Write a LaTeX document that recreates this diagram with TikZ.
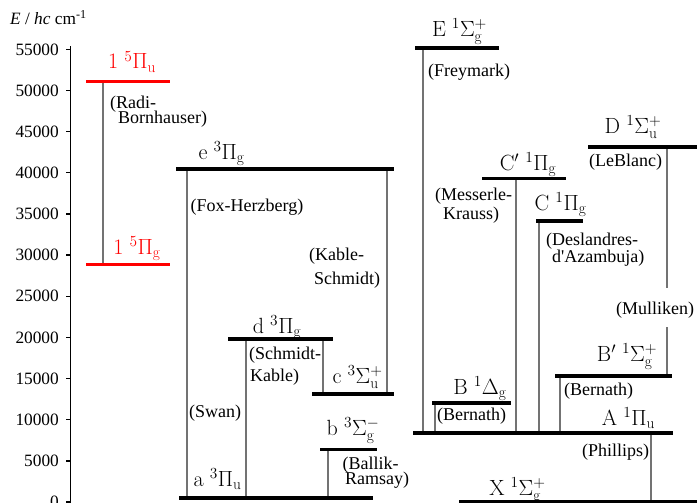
\RequirePackage{fix-cm}
\documentclass[tikz,border=0pt]{standalone}
\usepackage{fontspec}
\newfontfamily\tnr[Ligatures=TeXOff]{Liberation Serif}
\begin{document}
\begin{tikzpicture}[x=1pt,y=-1pt,
  lev/.style={line width=3.6pt,black},
  redlev/.style={line width=3.8pt,red},
  conn/.style={line width=1.2pt,black!55},
  axisline/.style={line width=1.3pt,black},
  ticklab/.style={anchor=east,inner sep=0pt,font=\tnr\fontsize{17.3}{17.3}\selectfont},
  state/.style={anchor=base,inner sep=0pt,font=\fontsize{22}{22}\selectfont},
  trl/.style={anchor=base west,inner sep=0pt,font=\tnr\fontsize{18}{18}\selectfont}]
\useasboundingbox (0,0) rectangle (697,503);

% axis
\coordinate (axtop) at (70.5,46.5);
\coordinate (axbot) at (70.5,505);
\draw[axisline] (axtop) -- (axbot);
\foreach \k/\val in {0/0,1/5000,2/10000,3/15000,4/20000,5/25000,6/30000,7/35000,8/40000,9/45000,10/50000,11/55000}{
  \pgfmathsetmacro{\yy}{502-41.15*\k}
  \coordinate (t\k) at (70.5,\yy);
  \draw[axisline] (t\k) -- ++(-4.5,0);
  \node[ticklab] (tl\k) at (59,\yy) {\val};
}
\node[anchor=base west,inner sep=0pt,font=\tnr\fontsize{17.3}{17.3}\selectfont] (ylab) at (10,25)
  {\textit{E} / \textit{hc} cm\textsuperscript{-1}};

% level coordinates
\newcommand\lvl[4]{\coordinate (#1) at (#2,#4); \coordinate (#1r) at (#3,#4);}
\lvl{Pu}{86}{170}{81.5}
\lvl{Pg}{86}{170}{264.5}
\lvl{e}{176}{394}{169}
\lvl{d}{228}{333}{338.7}
\lvl{c}{312}{394}{394}
\lvl{b}{320}{377}{449.5}
\lvl{a}{179}{373}{497.7}
\lvl{E}{415}{499}{48.3}
\lvl{Cp}{482}{566}{178.3}
\lvl{C}{536}{583}{221}
\lvl{D}{588}{700}{146.7}
\lvl{Bp}{555}{672}{376}
\lvl{B}{432}{511}{403}
\lvl{A}{413}{673}{433}
\lvl{X}{459}{700}{502}

% connector x positions
\coordinate (xRB) at (103,0);
\coordinate (xFH) at (187,0);
\coordinate (xKS) at (387,0);
\coordinate (xSW) at (246,0);
\coordinate (xSK) at (323,0);
\coordinate (xBR) at (328,0);
\coordinate (xFR) at (423,0);
\coordinate (xMK) at (516,0);
\coordinate (xDA) at (539,0);
\coordinate (xBN1) at (560,0);
\coordinate (xBN2) at (435,0);
\coordinate (xPH) at (651,0);
\coordinate (mu1) at (667,288);
\coordinate (mu2) at (667,327);

% connectors
\draw[conn] (Pu -| xRB) -- (Pg -| xRB);
\draw[conn] (e -| xFH) -- (a -| xFH);
\draw[conn] (e -| xKS) -- (c -| xKS);
\draw[conn] (d -| xSW) -- (a -| xSW);
\draw[conn] (d -| xSK) -- (c -| xSK);
\draw[conn] (b -| xBR) -- (a -| xBR);
\draw[conn] (E -| xFR) -- (A -| xFR);
\draw[conn] (Cp -| xMK) -- (A -| xMK);
\draw[conn] (C -| xDA) -- (A -| xDA);
\draw[conn] (Bp -| xBN1) -- (A -| xBN1);
\draw[conn] (B -| xBN2) -- (A -| xBN2);
\draw[conn] (A -| xPH) -- (X -| xPH);
\draw[conn] (D -| mu1) -- (mu1);
\draw[conn] (mu2) -- (Bp -| mu2);

% levels
\draw[redlev] (Pu) -- (Pur);
\draw[redlev] (Pg) -- (Pgr);
\foreach \n in {e,d,c,b,a,E,Cp,C,D,Bp,B,A,X}{\draw[lev] (\n) -- (\n r);}

% state labels
\node[state,red] (sPu) at (132,69) {$1\;{}^5\Pi_\mathrm{u}$};
\node[state,red] (sPg) at (137,254) {$1\;{}^5\Pi_\mathrm{g}$};
\node[state] (se) at (221.5,159) {$\mathrm{e}\;{}^3\Pi_\mathrm{g}$};
\node[state] (sd) at (277,333) {$\mathrm{d}\;{}^3\Pi_\mathrm{g}$};
\node[state] (sc) at (357.5,383) {$\mathrm{c}\;{}^3\Sigma_\mathrm{u}^+$};
\node[state] (sb) at (353,435) {$\mathrm{b}\;{}^3\Sigma_\mathrm{g}^-$};
\node[state] (sa) at (217.5,486.5) {$\mathrm{a}\;{}^3\Pi_\mathrm{u}$};
\node[state] (sE) at (459.5,36.5) {$\mathrm{E}\;{}^1\Sigma_\mathrm{g}^+$};
\node[state] (sD) at (633,133) {$\mathrm{D}\;{}^1\Sigma_\mathrm{u}^+$};
\node[state] (sCp) at (528,170) {$\mathrm{C}'\;{}^1\Pi_\mathrm{g}$};
\node[state] (sC) at (560.5,210) {$\mathrm{C}\;{}^1\Pi_\mathrm{g}$};
\node[state] (sBp) at (627,361.5) {$\mathrm{B}'\;{}^1\Sigma_\mathrm{g}^+$};
\node[state] (sB) at (480,394) {$\mathrm{B}\;{}^1\Delta_\mathrm{g}$};
\node[state] (sA) at (628.5,425) {$\mathrm{A}\;{}^1\Pi_\mathrm{u}$};
\node[state] (sX) at (517.5,495) {$\mathrm{X}\;{}^1\Sigma_\mathrm{g}^+$};

% transition labels
\node[trl] (rb1) at (110,108.5) {(Radi-};
\node[trl] (rb2) at (118,124) {Bornhauser)};
\node[trl] (fh) at (190.5,211) {(Fox-Herzberg)};
\node[trl] (ks1) at (309,260) {(Kable-};
\node[trl] (ks2) at (314,284) {Schmidt)};
\node[trl] (sk1) at (249,359) {(Schmidt-};
\node[trl] (sk2) at (250,381) {Kable)};
\node[trl] (sw) at (189,417.5) {(Swan)};
\node[trl] (br1) at (342.5,469) {(Ballik-};
\node[trl] (br2) at (345,484.5) {Ramsay)};
\node[trl] (fr) at (428,76.5) {(Freymark)};
\node[trl] (lb) at (589,167) {(LeBlanc)};
\node[trl] (mk1) at (435,200.5) {(Messerle-};
\node[trl] (mk2) at (443,219) {Krauss)};
\node[trl] (da1) at (546,245) {(Deslandres-};
\node[trl] (da2) at (552,262) {d'Azambuja)};
\node[trl] (mu) at (616,314) {(Mulliken)};
\node[trl] (bn1) at (564,395.5) {(Bernath)};
\node[trl] (bn2) at (437,420) {(Bernath)};
\node[trl] (ph) at (582,456.5) {(Phillips)};
\end{tikzpicture}
\end{document}
